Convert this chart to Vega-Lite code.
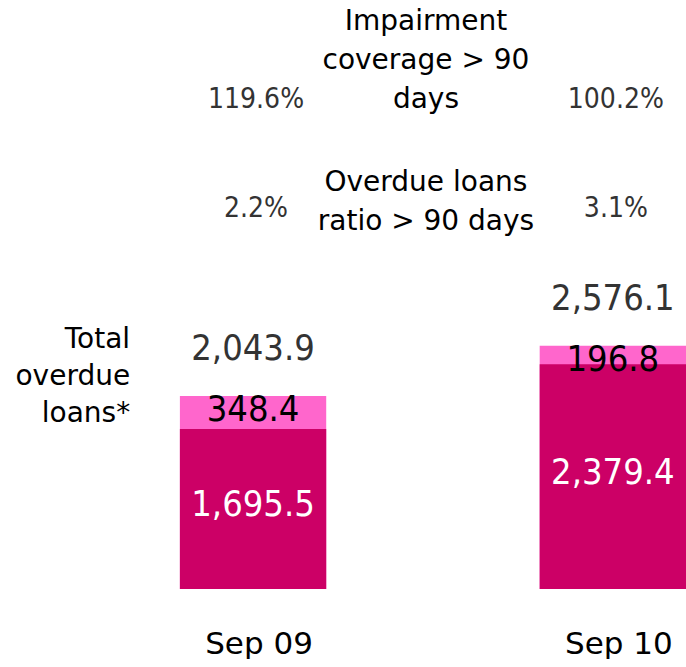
{
  "$schema": "https://vega.github.io/schema/vega-lite/v6.json",
  "padding": 0,
  "background": "white",
  "config": {"view": {"stroke": null}, "concat": {"spacing": 0}},
  "spacing": 0,
  "datasets": {
    "bars": [
      {"period": "Sep 09", "lower": 1695.5, "upper": 348.4, "total": 2043.9},
      {"period": "Sep 10", "lower": 2379.4, "upper": 196.8, "total": 2576.1}
    ],
    "ratios": [
      {"period": "Sep 09", "metric": "coverage", "value": "119.6%"},
      {"period": "Sep 10", "metric": "coverage", "value": "100.2%"},
      {"period": "Sep 09", "metric": "ratio", "value": "2.2%"},
      {"period": "Sep 10", "metric": "ratio", "value": "3.1%"}
    ],
    "metricLabels": [
      {"period": "metric", "metric": "coverage", "label": ["Impairment", "coverage > 90", "days"]},
      {"period": "metric", "metric": "ratio", "label": ["Overdue loans", "ratio > 90 days"]}
    ]
  },
  "vconcat": [
    {
      "width": 686,
      "height": 250,
      "encoding": {
        "x": {
          "field": "period", "type": "nominal",
          "scale": {"type": "band", "domain": ["title", "Sep 09", "metric", "Sep 10"], "paddingInner": 0.1866, "paddingOuter": 0, "align": 1},
          "axis": null
        },
        "y": {
          "field": "metric", "type": "nominal",
          "scale": {"type": "point", "domain": ["coverage", "ratio"], "padding": 0.6468, "align": 0.709},
          "axis": null
        }
      },
      "layer": [
        {
          "data": {"name": "ratios"},
          "mark": {"type": "text", "font": "DejaVu Sans Condensed, DejaVu Sans", "fontSize": 28, "color": "#333333", "baseline": "middle", "align": "center", "dx": 3},
          "encoding": {"text": {"field": "value", "type": "nominal"}}
        },
        {
          "data": {"name": "metricLabels"},
          "transform": [{"filter": "datum.metric == 'coverage'"}],
          "mark": {"type": "text", "font": "DejaVu Sans", "fontSize": 28, "color": "black", "baseline": "middle", "align": "center", "dx": -7, "dy": -78, "lineHeight": 39},
          "encoding": {"text": {"field": "label", "type": "nominal"}}
        },
        {
          "data": {"name": "metricLabels"},
          "transform": [{"filter": "datum.metric == 'ratio'"}],
          "mark": {"type": "text", "font": "DejaVu Sans", "fontSize": 28, "color": "black", "baseline": "middle", "align": "center", "dx": -7, "dy": -26, "lineHeight": 39},
          "encoding": {"text": {"field": "label", "type": "nominal"}}
        }
      ]
    },
    {
      "width": 686,
      "height": 339,
      "data": {"name": "bars"},
      "encoding": {
        "x": {
          "field": "period", "type": "nominal",
          "scale": {"type": "band", "domain": ["title", "Sep 09", "metric", "Sep 10"], "paddingInner": 0.1866, "paddingOuter": 0, "align": 1},
          "axis": {
            "title": null, "domain": false, "ticks": false, "labelAngle": 0,
            "labelFont": "DejaVu Sans", "labelFontSize": 31, "labelColor": "black",
            "labelPadding": 40, "labelOffset": 6, "labelOverlap": false,
            "labelExpr": "datum.value == 'title' || datum.value == 'metric' ? '' : datum.value"
          }
        }
      },
      "layer": [
        {
          "mark": {"type": "bar", "color": "#FF66CC"},
          "encoding": {"y": {"field": "total", "type": "quantitative", "scale": {"domain": [0, 3590], "nice": false, "zero": true}, "axis": null}}
        },
        {
          "mark": {"type": "bar", "color": "#CC0066"},
          "encoding": {"y": {"field": "lower", "type": "quantitative", "scale": {"domain": [0, 3590], "nice": false, "zero": true}, "axis": null}}
        },
        {
          "mark": {"type": "text", "font": "DejaVu Sans Condensed, DejaVu Sans", "fontSize": 36, "color": "white", "baseline": "middle", "align": "center", "dy": -4},
          "encoding": {
            "y": {"field": "lower", "type": "quantitative", "scale": {"domain": [0, 7180], "nice": false, "zero": true}, "axis": null},
            "text": {"field": "lower", "type": "quantitative", "format": ",.1f"}
          }
        },
        {
          "mark": {"type": "text", "font": "DejaVu Sans Condensed, DejaVu Sans", "fontSize": 36, "color": "black", "baseline": "middle", "align": "center", "dy": 14},
          "encoding": {
            "y": {"field": "total", "type": "quantitative", "scale": {"domain": [0, 3590], "nice": false, "zero": true}, "axis": null},
            "text": {"field": "upper", "type": "quantitative", "format": ",.1f"}
          }
        },
        {
          "mark": {"type": "text", "font": "DejaVu Sans Condensed, DejaVu Sans", "fontSize": 36, "color": "#333333", "baseline": "bottom", "align": "center", "dy": -28},
          "encoding": {
            "y": {"field": "total", "type": "quantitative", "scale": {"domain": [0, 3590], "nice": false, "zero": true}, "axis": null},
            "text": {"field": "total", "type": "quantitative", "format": ",.1f"}
          }
        },
        {
          "transform": [{"filter": "datum.period == 'Sep 09'"}],
          "mark": {"type": "text", "font": "DejaVu Sans", "fontSize": 28, "color": "black", "baseline": "middle", "align": "right", "dx": 57, "dy": -56, "lineHeight": 37},
          "encoding": {
            "x": {"datum": "title"},
            "y": {"field": "total", "type": "quantitative", "scale": {"domain": [0, 3590], "nice": false, "zero": true}, "axis": null},
            "text": {"value": ["Total", "overdue", "loans*"]}
          }
        }
      ],
      "resolve": {"scale": {"y": "independent"}}
    }
  ]
}
